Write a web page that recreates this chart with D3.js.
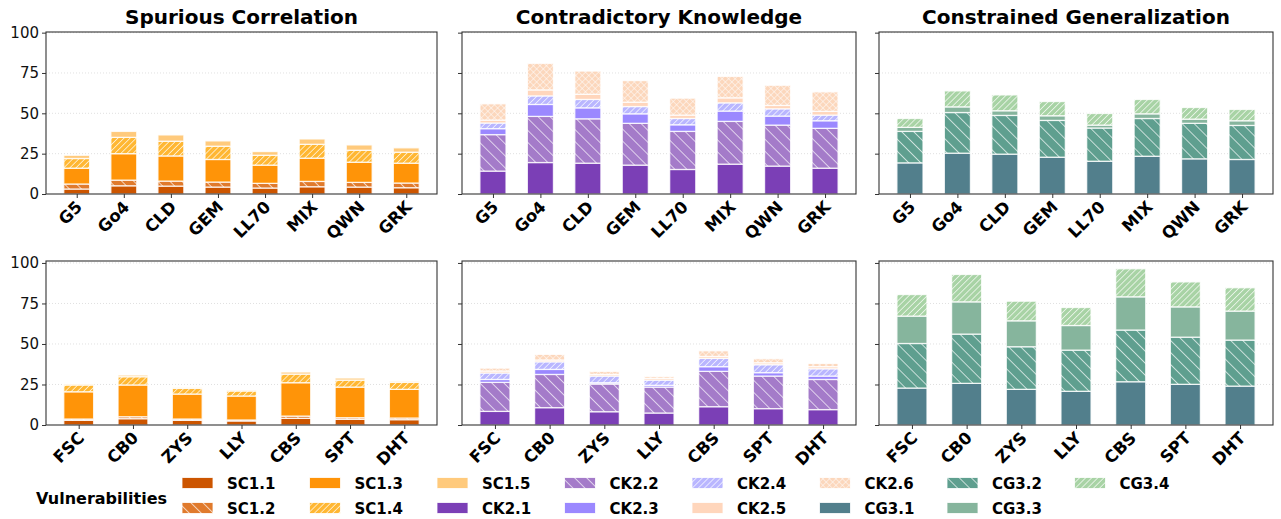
<!DOCTYPE html>
<html>
<head>
<meta charset="utf-8">
<script src="https://cdn.jsdelivr.net/npm/d3@7"></script>
<style>
  body { margin: 0; background: #fff; }
  svg { font-family: "DejaVu Sans", sans-serif; }
</style>
</head>
<body>
<div id="chart"></div>
<script>
// models per row
const topModels = ["G5", "Go4", "CLD", "GEM", "LL70", "MIX", "QWN", "GRK"];
const bottomModels = ["FSC", "CB0", "ZYS", "LLY", "CBS", "SPT", "DHT"];

const titles = ["Spurious Correlation", "Contradictory Knowledge", "Constrained Generalization"];

// sub-vulnerability keys per group
const scKeys = ["SC1.1", "SC1.2", "SC1.3", "SC1.4", "SC1.5"];
const ckKeys = ["CK2.1", "CK2.2", "CK2.3", "CK2.4", "CK2.5", "CK2.6"];
const cgKeys = ["CG3.1", "CG3.2", "CG3.3", "CG3.4"];

// segment values (%), one array per sub-vulnerability, one entry per model
const scTop = {
  "SC1.1": [3.1, 5.1, 4.9, 4.3, 3.7, 4.5, 4.3, 3.9],
  "SC1.2": [3.1, 3.5, 3.1, 3.1, 2.9, 3.3, 2.9, 2.9],
  "SC1.3": [9.8, 16.4, 15.6, 14.0, 11.3, 14.4, 12.5, 12.3],
  "SC1.4": [6.0, 10.1, 9.1, 8.2, 6.1, 8.6, 7.4, 6.8],
  "SC1.5": [2.0, 3.7, 3.9, 3.3, 2.3, 3.3, 3.3, 2.7]
};
const ckTop = {
  "CK2.1": [14.2, 19.5, 19.1, 17.9, 15.2, 18.5, 17.3, 16.0],
  "CK2.2": [22.6, 28.6, 27.5, 25.9, 23.6, 26.5, 25.4, 24.7],
  "CK2.3": [3.7, 7.4, 6.8, 5.9, 4.1, 6.4, 5.6, 4.7],
  "CK2.4": [3.5, 5.3, 5.2, 4.5, 3.9, 5.1, 4.5, 3.5],
  "CK2.5": [1.8, 3.7, 3.2, 2.7, 2.1, 3.1, 2.1, 2.3],
  "CK2.6": [10.1, 16.5, 14.4, 13.4, 10.5, 13.3, 12.5, 12.1]
};
const cgTop = {
  "CG3.1": [19.3, 25.3, 24.7, 22.8, 20.3, 23.4, 21.8, 21.4],
  "CG3.2": [19.5, 25.2, 24.0, 22.8, 20.6, 23.4, 22.0, 21.1],
  "CG3.3": [2.5, 3.5, 2.9, 2.9, 1.8, 2.9, 2.6, 2.9],
  "CG3.4": [5.5, 9.9, 9.8, 8.8, 7.2, 8.9, 7.2, 7.0]
};
const scBottom = {
  "SC1.1": [2.9, 3.9, 2.9, 2.5, 4.1, 3.5, 3.3],
  "SC1.2": [0.8, 1.2, 0.8, 0.6, 1.4, 1.0, 1.0],
  "SC1.3": [16.8, 19.6, 15.4, 14.8, 20.6, 18.9, 17.7],
  "SC1.4": [4.2, 5.1, 3.5, 3.1, 5.3, 4.3, 4.3],
  "SC1.5": [0.5, 1.0, 0.4, 0.4, 1.3, 1.3, 0.6]
};
const ckBottom = {
  "CK2.1": [8.4, 10.7, 8.2, 7.4, 11.3, 10.1, 9.5],
  "CK2.2": [17.9, 20.5, 17.1, 16.0, 21.8, 20.1, 18.6],
  "CK2.3": [1.8, 3.1, 0.8, 1.1, 2.9, 2.1, 2.1],
  "CK2.4": [4.0, 4.7, 4.1, 3.2, 5.1, 4.9, 4.5],
  "CK2.5": [1.2, 1.1, 1.0, 1.1, 1.2, 1.2, 1.3],
  "CK2.6": [1.8, 3.5, 1.9, 1.2, 3.5, 2.5, 2.0]
};
const cgBottom = {
  "CG3.1": [22.8, 25.7, 22.0, 20.8, 26.7, 25.1, 24.0],
  "CG3.2": [27.5, 30.4, 26.3, 25.4, 31.9, 29.1, 28.4],
  "CG3.3": [16.9, 19.9, 16.0, 15.2, 20.5, 18.7, 17.9],
  "CG3.4": [13.3, 16.9, 12.1, 11.1, 17.3, 15.4, 14.4]
};

const colors = {
  "SC1.1": "#cc5500", "SC1.2": "#e07a2c", "SC1.3": "#ff9408", "SC1.4": "#ffb733", "SC1.5": "#ffca7c",
  "CK2.1": "#7b3fb6", "CK2.2": "#a47bc9", "CK2.3": "#9b88ff", "CK2.4": "#b9b6ff", "CK2.5": "#ffd6bc", "CK2.6": "#fcd7bc",
  "CG3.1": "#527f8c", "CG3.2": "#5f9f8f", "CG3.3": "#86b59d", "CG3.4": "#a8d3a5"
};
// hatch kind: "back" = \\, "fwd" = ///, "cross" = xxx
const hatches = {
  "SC1.2": "back", "SC1.4": "fwd",
  "CK2.2": "back", "CK2.4": "fwd", "CK2.6": "cross",
  "CG3.2": "back", "CG3.4": "fwd"
};

const legendOrder = scKeys.concat(ckKeys, cgKeys);

const W = 1281, H = 519;
const svg = d3.select("#chart").append("svg").attr("width", W).attr("height", H);
const defs = svg.append("defs");

// patterns
Object.keys(hatches).forEach(k => {
  const kind = hatches[k];
  const s = kind === "back" ? 8.5 : (kind === "fwd" ? 4.3 : 4.6);
  const p = defs.append("pattern")
      .attr("id", "hatch-" + k.replace(".", "_"))
      .attr("patternUnits", "userSpaceOnUse")
      .attr("width", s).attr("height", s)
      .attr("patternTransform", `rotate(${kind === "back" ? -45 : 45})`);
  p.append("rect").attr("width", s).attr("height", s).attr("fill", colors[k]);
  p.append("line").attr("x1", 0).attr("y1", -1).attr("x2", 0).attr("y2", s + 1)
      .attr("stroke", "#fff").attr("stroke-width", kind === "cross" ? 1 : 1.3);
  if (kind === "cross") {
    p.append("line").attr("x1", -1).attr("y1", 0).attr("x2", s + 1).attr("y2", 0)
        .attr("stroke", "#fff").attr("stroke-width", 1);
  }
});

function fillOf(k) {
  return hatches[k] ? `url(#hatch-${k.replace(".", "_")})` : colors[k];
}

const colLeft = [46, 462, 879];
const colRight = [437, 856, 1273];
const rows = [
  { top: 32, bottom: 194, ymax: 100.4, models: topModels, data: [scTop, ckTop, cgTop] },
  { top: 261, bottom: 425, ymax: 101.2, models: bottomModels, data: [scBottom, ckBottom, cgBottom] }
];
const groupKeys = [scKeys, ckKeys, cgKeys];
const barW = 0.55;

rows.forEach((row, ri) => {
  const n = row.models.length;
  const span = (n - 1) + barW;
  const pad = 0.05 * span;

  for (let ci = 0; ci < 3; ci++) {
    const x = d3.scaleLinear()
        .domain([-barW / 2 - pad, n - 1 + barW / 2 + pad])
        .range([colLeft[ci], colRight[ci]]);
    const y = d3.scaleLinear().domain([0, row.ymax]).range([row.bottom, row.top]);
    const g = svg.append("g");

    // grid
    g.selectAll("line.grid")
        .data([25, 50, 75, 100])
        .enter().append("line")
        .attr("x1", colLeft[ci]).attr("x2", colRight[ci])
        .attr("y1", d => y(d)).attr("y2", d => y(d))
        .attr("stroke", "#d8d8d8").attr("stroke-width", 0.8)
        .attr("stroke-dasharray", "1,2");

    // stacked bars
    const keys = groupKeys[ci];
    const table = row.models.map((m, i) => {
      const o = { model: m, idx: i };
      keys.forEach(k => { o[k] = row.data[ci][k][i]; });
      return o;
    });
    const stacked = d3.stack().keys(keys)(table);

    stacked.forEach(layer => {
      g.selectAll(null)
          .data(layer)
          .enter().append("rect")
          .attr("x", d => x(d.data.idx - barW / 2))
          .attr("width", x(barW) - x(0))
          .attr("y", d => y(d[1]))
          .attr("height", d => y(d[0]) - y(d[1]))
          .attr("fill", fillOf(layer.key))
          .attr("stroke", "#fff")
          .attr("stroke-opacity", 0.8)
          .attr("stroke-width", 1.3);
    });

    // frame
    g.append("rect")
        .attr("x", colLeft[ci]).attr("y", row.top)
        .attr("width", colRight[ci] - colLeft[ci]).attr("height", row.bottom - row.top)
        .attr("fill", "none").attr("stroke", "#333").attr("stroke-width", 1.1);

    // y axis
    const yAxis = g.append("g")
        .attr("transform", `translate(${colLeft[ci]},0)`)
        .call(d3.axisLeft(y).tickValues([0, 25, 50, 75, 100]).tickSize(4).tickPadding(3)
            .tickFormat(ci === 0 ? d3.format("d") : () => ""));
    yAxis.select(".domain").remove();
    yAxis.selectAll(".tick line").attr("stroke", "#333");
    yAxis.selectAll(".tick text").attr("font-size", 15).attr("fill", "#111")
        .attr("font-family", "DejaVu Sans");

    // x axis
    const xAxis = g.append("g")
        .attr("transform", `translate(0,${row.bottom})`)
        .call(d3.axisBottom(x).tickValues(d3.range(n)).tickSize(4)
            .tickFormat(i => row.models[i]));
    xAxis.select(".domain").remove();
    xAxis.selectAll(".tick line").attr("stroke", "#333");
    xAxis.selectAll(".tick text")
        .attr("font-size", 16.5).attr("font-weight", "bold").attr("fill", "#000")
        .attr("font-family", "DejaVu Sans")
        .attr("text-anchor", "end")
        .attr("dy", null)
        .attr("y", 0)
        .attr("transform", "translate(6,14) rotate(-45)");

    // title
    if (ri === 0) {
      svg.append("text")
          .attr("x", (colLeft[ci] + colRight[ci]) / 2)
          .attr("y", 24)
          .attr("text-anchor", "middle")
          .attr("font-size", 20).attr("font-weight", "bold")
          .text(titles[ci]);
    }
  }
});

// legend
const legend = svg.append("g");
legend.append("text")
    .attr("x", 36).attr("y", 504)
    .attr("font-size", 16).attr("font-weight", "bold")
    .text("Vulnerabilities");

legendOrder.forEach((k, i) => {
  const col = Math.floor(i / 2), r = i % 2;
  const lx = 182 + col * 127.5;
  const ly = r === 0 ? 483 : 508;
  legend.append("rect")
      .attr("x", lx).attr("y", ly - 5.5)
      .attr("width", 31).attr("height", 11)
      .attr("fill", fillOf(k))
      .attr("stroke", "#fff").attr("stroke-opacity", 0.8).attr("stroke-width", 1);
  legend.append("text")
      .attr("x", lx + 45).attr("y", ly + 5.5)
      .attr("font-size", 15).attr("font-weight", "bold")
      .text(k);
});
</script>
</body>
</html>
